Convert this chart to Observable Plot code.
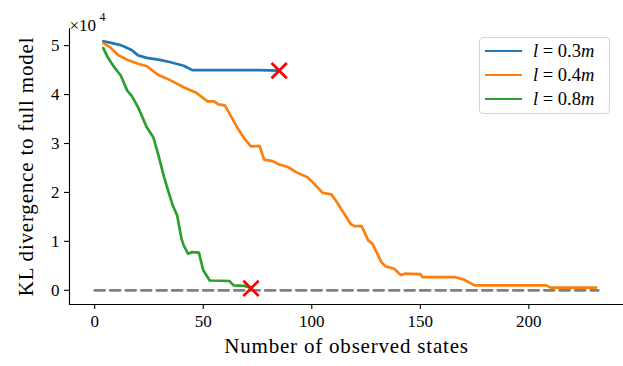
<!DOCTYPE html>
<html>
<head>
<meta charset="utf-8">
<script src="https://cdn.jsdelivr.net/npm/d3@7"></script>
<script src="https://cdn.jsdelivr.net/npm/@observablehq/plot@0.6"></script>
<style>
  html, body { margin: 0; padding: 0; background: #fff; }
  #wrap { position: relative; width: 623px; height: 366px; font-family: "Liberation Serif", serif; }
  #wrap svg text { font-family: "Liberation Serif", serif; font-variant: normal; }
  #legend { position: absolute; left: 479px; top: 37px; width: 129px; height: 75px;
    border: 1.2px solid #d4d4d4; border-radius: 4px; background: rgba(255,255,255,0.8); }
  .row { position: absolute; left: 0; height: 20px; }
  .sw { position: absolute; left: 5px; width: 37px; height: 2.7px; }
  .lab { position: absolute; left: 53px; font-size: 18.5px; white-space: nowrap; line-height: 20px; }
</style>
</head>
<body>
<div id="wrap"><div id="legend"></div></div>
<script>
// Values in units of 10^4
const seriesNames = ["l = 0.3m", "l = 0.4m", "l = 0.8m"];
const seriesColors = ["#1f77b4", "#ff7f0e", "#2ca02c"];

const x03 = [4, 7, 12, 14, 17, 20, 24, 30, 35, 41, 45, 60, 76, 85];
const y03 = [5.09, 5.06, 5.01, 4.97, 4.91, 4.80, 4.75, 4.71, 4.66, 4.59, 4.50, 4.50, 4.50, 4.49];

const x04 = [4, 7, 11, 15, 20, 24, 29, 35, 41, 47, 52, 55, 57, 60, 63, 66, 69, 72, 76, 78, 82, 85, 89, 93, 98, 101, 105, 109, 111, 114, 118, 120, 123, 126, 128, 132, 134, 138, 141, 143, 150, 151, 166, 170, 175, 208, 210, 231];
const y04 = [5.05, 4.97, 4.80, 4.71, 4.63, 4.58, 4.41, 4.29, 4.15, 4.03, 3.86, 3.86, 3.80, 3.78, 3.54, 3.30, 3.10, 2.94, 2.95, 2.67, 2.64, 2.57, 2.52, 2.41, 2.31, 2.18, 1.99, 1.96, 1.84, 1.63, 1.35, 1.31, 1.31, 1.02, 0.95, 0.58, 0.49, 0.44, 0.31, 0.34, 0.33, 0.27, 0.27, 0.22, 0.10, 0.10, 0.055, 0.055];

const x08 = [4, 6, 9, 12, 15, 17, 20, 24, 27, 29, 30, 32, 34, 36, 38, 40, 41, 43, 45, 48, 50, 53, 62, 64, 69, 72];
const y08 = [4.95, 4.76, 4.56, 4.39, 4.08, 3.98, 3.74, 3.33, 3.13, 2.82, 2.65, 2.31, 2.01, 1.73, 1.53, 1.05, 0.92, 0.75, 0.78, 0.77, 0.41, 0.20, 0.19, 0.10, 0.09, 0.05];

const endX = [85, 72];
const endY = [4.49, 0.04];

const baseX = [0, 232];
const baseY = [0, 0];

const xTicks = [0, 50, 100, 150, 200];
const yTicks = [0, 1, 2, 3, 4, 5];

const xLabel = "Number of observed states";
const yLabel = "KL divergence to full model";

const allX = [x03, x04, x08];
const allY = [y03, y04, y08];
const rows = [];
allX.forEach((xs, i) => xs.forEach((x, j) => rows.push({s: seriesNames[i], x, y: allY[i][j]})));
const ends = endX.map((x, i) => ({x, y: endY[i]}));
const base = baseX.map((x, i) => ({x, y: baseY[i]}));

const font = "Liberation Serif";
const plot = Plot.plot({
  width: 623, height: 366,
  marginLeft: 69, marginRight: 0, marginTop: 28, marginBottom: 62,
  style: {fontFamily: font, fontSize: "17px", color: "black", background: "white"},
  x: {domain: [-11.6, 243.6]},
  y: {domain: [-0.29, 5.35]},
  color: {domain: seriesNames, range: seriesColors},
  marks: [
    Plot.frame({anchor: "left", stroke: "black", strokeWidth: 1.1}),
    Plot.frame({anchor: "bottom", stroke: "black", strokeWidth: 1.1}),
    Plot.axisX({ticks: xTicks, tickFormat: d3.format("d"), tickSize: 5, tickPadding: 5, label: null, strokeWidth: 1.1, fontSize: 17, fontFamily: font}),
    Plot.axisY({ticks: yTicks, tickFormat: d3.format("d"), tickSize: 5, tickPadding: 5, label: null, strokeWidth: 1.1, fontSize: 17, fontFamily: font}),
    Plot.line(rows, {x: "x", y: "y", z: "s", stroke: "s", strokeWidth: 2.7, curve: "linear"}),
    Plot.line(base, {x: "x", y: "y", stroke: "#808080", strokeWidth: 2.7, strokeDasharray: "10,5.5"}),
    Plot.dot(ends, {x: "x", y: "y", symbol: "times", stroke: "red", r: 7, strokeWidth: 2.7}),
    Plot.text([xLabel], {frameAnchor: "bottom", dy: 48, fontSize: 21, fontFamily: font, textAnchor: "middle", fill: "black"}),
    Plot.text([yLabel], {frameAnchor: "left", dx: -43, rotate: -90, fontSize: 21, fontFamily: font, textAnchor: "middle", fill: "black"}),
    Plot.text(["×10"], {frameAnchor: "top-left", dx: 0, dy: -10, fontSize: 17, fontFamily: font, textAnchor: "start", fill: "black"}),
    Plot.text(["4"], {frameAnchor: "top-left", dx: 30, dy: -16, fontSize: 12, fontFamily: font, textAnchor: "start", fill: "black"})
  ]
});
d3.select(plot).selectAll("text")
  .filter(function() { return this.textContent === xLabel || this.textContent === yLabel; })
  .style("letter-spacing", "0.8px");
const wrap = document.getElementById("wrap");
wrap.insertBefore(plot, wrap.firstChild);

const legend = document.getElementById("legend");
const tops = [3, 27, 51];
seriesNames.forEach((name, i) => {
  const r = document.createElement("div");
  r.className = "row";
  r.style.top = tops[i] + "px";
  const sw = document.createElement("div");
  sw.className = "sw";
  sw.style.background = seriesColors[i];
  sw.style.top = "8.7px";
  const lab = document.createElement("div");
  lab.className = "lab";
  const m = name.match(/^l = ([0-9.]+)m$/);
  lab.innerHTML = "<i>l</i> = " + m[1] + "<i>m</i>";
  r.appendChild(sw); r.appendChild(lab);
  legend.appendChild(r);
});
</script>
</body>
</html>
